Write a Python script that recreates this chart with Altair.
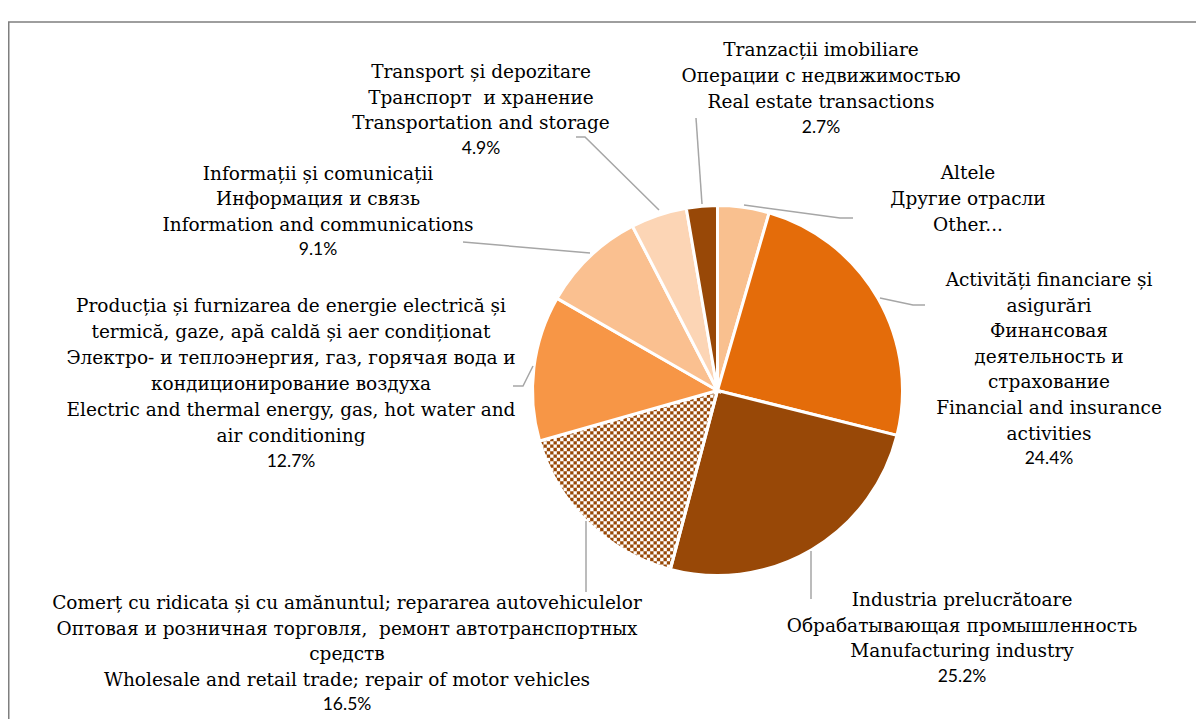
import altair as alt
import pandas as pd

# ---------------- data ----------------
sectors = ["Other", "Financial and insurance activities", "Manufacturing industry",
           "Wholesale and retail trade; repair of motor vehicles",
           "Electric and thermal energy, gas, hot water and air conditioning",
           "Information and communications", "Transportation and storage",
           "Real estate transactions"]
shares = [4.5, 24.4, 25.2, 16.5, 12.7, 9.1, 4.9, 2.7]
pct_labels = ["", "24.4%", "25.2%", "16.5%", "12.7%", "9.1%", "4.9%", "2.7%"]
label_lines = [
    ["Altele", "Другие отрасли", "Other..."],
    ["Activități financiare și", "asigurări", "Финансовая", "деятельность и",
     "страхование", "Financial and insurance", "activities"],
    ["Industria prelucrătoare", "Обрабатывающая промышленность", "Manufacturing industry"],
    ["Comerț cu ridicata și cu amănuntul; repararea autovehiculelor",
     "Оптовая и розничная торговля,\u00a0 ремонт автотранспортных", "средств",
     "Wholesale and retail trade; repair of motor vehicles"],
    ["Producția și furnizarea de energie electrică și",
     "termică, gaze, apă caldă și aer condiționat",
     "Электро- и теплоэнергия, газ, горячая вода и", "кондиционирование воздуха",
     "Electric and thermal energy, gas, hot water and", "air conditioning"],
    ["Informații și comunicații", "Информация и связь", "Information and communications"],
    ["Transport și depozitare", "Транспорт\u00a0 и хранение", "Transportation and storage"],
    ["Tranzacții imobiliare", "Операции с недвижимостью", "Real estate transactions"],
]
PATTERN_IDX = 3  # wholesale slice is drawn with a checker texture

# ---------------- styles / layout ----------------
BROWN = "#984807"
colors = ["#F9C08F", "#E46C0A", BROWN, "transparent", "#F79646", "#FAC090", "#FCD5B5", BROWN]
OFF = 8  # page margin
CX, CY, R = 717.5 - OFF, 390.5 - OFF, 185
# label anchor: (center x, first-line y, line step) in page coords
label_pos = [(968, 173, 26), (1049, 280, 25.6), (962, 600, 25.7), (347, 603, 25.5),
             (291, 306, 26), (318, 174, 25.3), (481, 72, 25.5), (821, 50, 26)]
# leader lines (page coords)
leaders = [
    [(744, 205), (840, 218), (853, 218)],
    [(880, 298), (913, 305), (925, 305)],
    [(811, 551), (811, 599)],
    [(586, 521), (586, 592)],
    [(513, 386), (523, 386), (533, 366)],
    [(463, 242), (590, 253)],
    [(576, 137), (585, 137), (659, 210)],
    [(696, 118), (702, 204)],
]
SERIF = "DejaVu Serif"
SANS = "Lato"
FS = 18.5

df = pd.DataFrame({"idx": list(range(len(sectors))), "sector": sectors, "share": shares})

theta_scale = alt.Scale(domain=[0, 100], range=[0, 6.283185307179586])
base = alt.Chart(df).transform_window(
    end="sum(share)", sort=[alt.SortField("idx")], frame=[None, 0]
).transform_calculate(start="datum.end - datum.share")

# checker texture: one symbol whose path is a checkerboard, covering the
# lower-left quadrant; other slices + a white ring outside the pie mask it.
TEX = 200.0
CELL = 10.0 / 3.0
n = int(round(TEX / CELL))
u = 2.0 / n
parts = []
for i in range(n):
    for j in range(n):
        if (i + j) % 2 == 0:
            parts.append("M%.4f %.4fh%.4fv%.4fh-%.4fZ" % (-1 + i * u, -1 + j * u, u, u, u))
checker_path = "".join(parts)
texture = alt.Chart(df).transform_filter(alt.datum.idx == PATTERN_IDX).mark_point(
    shape=checker_path, size=TEX * TEX, filled=True, fill=BROWN, opacity=1, strokeWidth=0
).encode(x=alt.value(CX - TEX / 2 + 6), y=alt.value(CY + TEX / 2 - 6))

texture_bg = alt.Chart(df).transform_filter(alt.datum.idx == PATTERN_IDX).mark_arc(
    radius=R, fill="white"
).encode(
    theta=alt.value(3.14), theta2=alt.value(4.75),
    x=alt.value(CX), y=alt.value(CY),
)

pie = base.mark_arc(radius=R, stroke="white", strokeWidth=3).encode(
    theta=alt.Theta("start:Q", scale=theta_scale),
    theta2="end:Q",
    color=alt.Color("sector:N", scale=alt.Scale(domain=sectors, range=colors), legend=None),
    x=alt.value(CX), y=alt.value(CY),
)

mask = alt.Chart(df).transform_filter(alt.datum.idx == PATTERN_IDX).mark_arc(
    radius=R + 90, radius2=R + 0.5, fill="white"
).encode(
    theta=alt.value(0), theta2=alt.value(6.2832),
    x=alt.value(CX), y=alt.value(CY),
)

# text rows
rows = []
for i, lines in enumerate(label_lines):
    x, y0, step = label_pos[i]
    for j, t in enumerate(lines):
        rows.append({"text": t, "x": x - OFF, "y": y0 + j * step - OFF, "kind": "serif"})
    if pct_labels[i]:
        rows.append({"text": pct_labels[i], "x": x - OFF, "y": y0 + len(lines) * step - OFF, "kind": "sans"})
tdf = pd.DataFrame(rows)

serif_text = alt.Chart(tdf).transform_filter(alt.datum.kind == "serif").mark_text(
    font=SERIF, fontSize=FS, color="#000000", align="center", baseline="middle"
).encode(x=alt.X("x:Q", scale=None), y=alt.Y("y:Q", scale=None), text="text:N")
sans_text = alt.Chart(tdf).transform_filter(alt.datum.kind == "sans").mark_text(
    font=SANS, fontSize=17.5, color="#000000", align="center", baseline="middle"
).encode(x=alt.X("x:Q", scale=None), y=alt.Y("y:Q", scale=None), text="text:N")

lrows = []
for i, pts in enumerate(leaders):
    for j, (px, py) in enumerate(pts):
        lrows.append({"lid": i, "o": j, "x": px - OFF, "y": py - OFF})
ldf = pd.DataFrame(lrows)
lines_chart = alt.Chart(ldf).mark_line(color="#A6A6A6", strokeWidth=1.5).encode(
    x=alt.X("x:Q", scale=None), y=alt.Y("y:Q", scale=None),
    detail="lid:N", order="o:Q",
)

frame = alt.Chart(df).transform_filter(alt.datum.idx == 0).mark_rect(
    fill=None, stroke="#7F7F7F", strokeWidth=1.5
).encode(
    x=alt.value(0.75), x2=alt.value(1600), y=alt.value(22 - OFF), y2=alt.value(1200)
)

chart = alt.layer(
    frame, texture_bg, texture, pie, mask, lines_chart, serif_text, sans_text
).properties(
    width=1188, height=711, autosize=alt.AutoSizeParams(type="none"), padding=0
).configure_view(stroke=None)

chart.save("out.html", embed_options={"renderer": "svg", "actions": False})
